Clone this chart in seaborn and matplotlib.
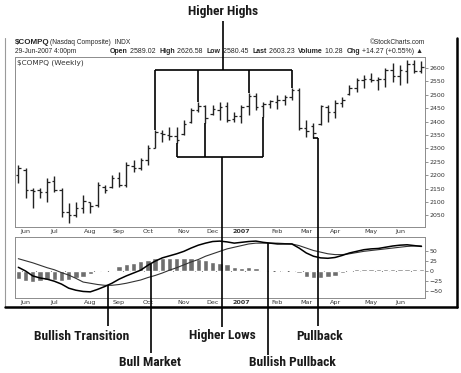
"""
$COMPQ weekly bar chart with MACD panel and trend annotations.
Writes out.png (461x373).
"""

import matplotlib
matplotlib.use("Agg")
import matplotlib.pyplot as plt
import matplotlib.transforms as mtransforms
from matplotlib import font_manager
from matplotlib.lines import Line2D
import numpy as np
import pandas as pd
import seaborn as sns

W, H, DPI = 461, 373, 100

# weekly bars: week of 29-May-2006 .. week of 25-Jun-2007
week_start = pd.date_range("2006-05-29", periods=57, freq="W-MON")

price_open = [2201, 2220, 2146, 2145, 2137, 2179, 2145, 2063, 2052, 2078,
              2100, 2089, 2156, 2156, 2190, 2164, 2234, 2227, 2257, 2302,
              2358, 2350, 2346, 2354, 2399, 2443, 2458, 2429, 2443, 2458,
              2410, 2421, 2458, 2496, 2458, 2466, 2473, 2481, 2492, 2518,
              2376, 2384, 2391, 2455, 2436, 2469, 2503, 2525, 2555, 2559,
              2555, 2559, 2593, 2570, 2590, 2615, 2589.02]
price_high = [2238, 2227, 2152, 2152, 2190, 2197, 2152, 2096, 2100, 2126,
              2100, 2175, 2164, 2201, 2212, 2249, 2257, 2265, 2313, 2369,
              2369, 2380, 2380, 2406, 2451, 2473, 2462, 2462, 2473, 2473,
              2436, 2462, 2507, 2507, 2473, 2481, 2499, 2499, 2525, 2525,
              2406, 2395, 2462, 2462, 2481, 2492, 2537, 2563, 2574, 2581,
              2566, 2600, 2619, 2611, 2630, 2630, 2626.58]
price_low = [2171, 2115, 2078, 2115, 2100, 2137, 2044, 2022, 2044, 2059,
             2059, 2082, 2134, 2152, 2156, 2156, 2212, 2220, 2238, 2302,
             2324, 2331, 2320, 2350, 2395, 2436, 2395, 2425, 2406, 2399,
             2399, 2395, 2425, 2443, 2417, 2451, 2447, 2462, 2481, 2369,
             2343, 2339, 2387, 2399, 2414, 2455, 2499, 2510, 2525, 2548,
             2518, 2529, 2548, 2537, 2544, 2581, 2580.45]
price_close = [2227, 2145, 2142, 2137, 2175, 2145, 2063, 2052, 2078, 2104,
               2085, 2164, 2145, 2190, 2164, 2238, 2227, 2257, 2302, 2361,
               2354, 2346, 2331, 2391, 2443, 2458, 2414, 2447, 2455, 2406,
               2421, 2455, 2496, 2455, 2466, 2477, 2481, 2492, 2518, 2376,
               2365, 2358, 2458, 2436, 2469, 2481, 2525, 2555, 2559, 2555,
               2559, 2593, 2570, 2593, 2615, 2589, 2603.23]

macd_line = [9, 0, -12, -17, -20, -25, -32, -42, -47, -50,
             -51, -45, -38, -30, -20, -12, -5, 2, 14, 24,
             32, 37, 42, 48, 56, 63, 68, 72, 73, 71,
             68, 70, 72, 73, 70, 68, 66, 66, 66, 56,
             44, 36, 32, 31, 33, 38, 44, 48, 52, 54,
             55, 58, 61, 63, 64, 62, 60]
macd_signal = [30, 25, 20, 14, 8, 3, -4, -10, -18, -27,
               -30, -33, -35, -35, -33, -30, -26, -22, -16, -11,
               -5, 2, 8, 15, 22, 28, 36, 42, 48, 54,
               58, 62, 66, 68, 68, 68, 68, 67, 66, 62,
               56, 50, 46, 42, 40, 40, 42, 45, 48, 50,
               52, 54, 56, 58, 60, 61, 61]
macd_hist = [-20, -24, -26, -24, -22, -22, -24, -22, -18, -14,
             -8, -3, -1, 3, 12, 17, 20, 24, 28, 32,
             32, 32, 31, 32, 32, 30, 27, 22, 20, 17,
             10, 8, 10, 8, 3, 1, 0, 0, -1, -5,
             -14, -17, -17, -14, -12, -6, -2, 4, 5, 6,
             5, 5, 6, 5, 5, 5, 4]

price_ticks = list(range(2050, 2601, 50))
macd_ticks = [-50, -25, 0, 25, 50]

header_stats = [("Open", True), (" 2589.02  ", False), ("High", True), (" 2626.58  ", False),
                ("Low", True), (" 2580.45  ", False), ("Last", True), (" 2603.23  ", False),
                ("Volume", True), (" 10.28  ", False), ("Chg", True), (" +14.27 (+0.55%) \u25b2", False)]

INK = "#222222"
ANNOT = "#1a1a1a"
HEAD_FONT = ["Liberation Sans", "DejaVu Sans"]

# narrow bold face for the callouts if one is installed, else Roboto a bit smaller
installed = {f.name for f in font_manager.fontManager.ttflist}
if "Liberation Sans Narrow" in installed:
    LABEL_FONT, LABEL_SIZE = ["Liberation Sans Narrow", "DejaVu Sans"], 9.7
elif "Roboto Condensed" in installed:
    LABEL_FONT, LABEL_SIZE = ["Roboto Condensed", "DejaVu Sans"], 9.7
else:
    LABEL_FONT, LABEL_SIZE = ["Roboto", "DejaVu Sans"], 8.6


def fx(px):
    return px / W


def fy(py):
    return 1 - py / H


def style_axis(ax, ticks, labels_bold):
    for s in ax.spines.values():
        s.set_color("#8c8c8c")
        s.set_linewidth(0.7)
    ax.yaxis.tick_right()
    ax.tick_params(axis="y", which="both", labelsize=4.5, length=2, width=0.5,
                   color="#666", labelcolor="#333", pad=1.5)
    ax.set_yticks(ticks)
    ax.set_xticks(month_pos)
    ax.set_xticklabels(month_txt)
    ax.set_xticks(wk, minor=True)
    ax.tick_params(axis="x", which="major", direction="in", length=2.5, width=0.5,
                   color="#666", labelsize=4.6, labelcolor="#333", pad=1.2)
    ax.tick_params(axis="x", which="minor", direction="in", length=1.2, width=0.5, color="#888")
    for lbl, bold in zip(ax.get_xticklabels(), labels_bold):
        if bold:
            lbl.set_fontweight("bold")
    ax.set_xlabel("")
    ax.set_ylabel("")


wk = np.arange(len(week_start))
new_month = np.r_[False, week_start.month[1:] != week_start.month[:-1]]
month_pos = wk[new_month]
month_txt = [d.strftime("%b") if d.month != 1 else str(d.year) for d in week_start[new_month]]
month_bold = [d.month == 1 for d in week_start[new_month]]

sns.set_style("white")
plt.rcParams["font.family"] = ["DejaVu Sans"]

fig = plt.figure(figsize=(W / DPI, H / DPI), dpi=DPI)
ax_p = fig.add_axes([fx(15), fy(227), 410 / W, 170 / H])
ax_m = fig.add_axes([fx(15), fy(298), 410 / W, 61 / H])

# price bars (OHLC)
ax_p.vlines(wk, price_low, price_high, color=INK, lw=1.0)
ax_p.hlines(price_open, wk - 0.34, wk, color=INK, lw=0.9)
ax_p.hlines(price_close, wk, wk + 0.34, color=INK, lw=0.9)
ax_p.set_xlim(-0.46, 56.49)
ax_p.set_ylim(2007, 2641)
style_axis(ax_p, price_ticks, month_bold)
ax_p.text(0.006, 0.985, "\\$COMPQ (Weekly)", transform=ax_p.transAxes, fontsize=5.3,
          va="top", ha="left", color="#333")

# MACD panel
ax_m.axhline(0, color="#666", lw=0.7, ls=(0, (3, 2)), zorder=1)
ax_m.bar(wk, macd_hist, width=0.74, color="#6e6e6e", zorder=2)
sns.lineplot(x=wk, y=macd_signal, ax=ax_m, color="#333", lw=0.8, zorder=3)
sns.lineplot(x=wk, y=macd_line, ax=ax_m, color="black", lw=1.1, zorder=3)
ax_m.set_xlim(-0.46, 56.49)
ax_m.set_ylim(-66, 83)
style_axis(ax_m, macd_ticks, month_bold)

# outer frame (thin left edge, heavy right/bottom edges)
fig.add_artist(Line2D([fx(5), fx(5)], [fy(38), fy(307)], transform=fig.transFigure,
                      color="#9a9a9a", lw=0.8))
fig.add_artist(Line2D([fx(5), fx(457)], [fy(307), fy(307)], transform=fig.transFigure,
                      color="black", lw=1.8))
fig.add_artist(Line2D([fx(457), fx(457)], [fy(38), fy(307)], transform=fig.transFigure,
                      color="black", lw=1.8))

# header
fig.text(fx(15), fy(43), "\\$COMPQ", fontsize=5.8, fontweight="bold", va="center",
         family=HEAD_FONT)
fig.text(fx(50), fy(43), "(Nasdaq Composite)  INDX", fontsize=4.8, va="center",
         family=HEAD_FONT)
fig.text(fx(15), fy(51.5), "29-Jun-2007 4:00pm", fontsize=4.8, va="center",
         family=HEAD_FONT)
fig.text(fx(425), fy(42), "\u00a9StockCharts.com", fontsize=4.8, va="center", ha="right",
         family=HEAD_FONT)
renderer = fig.canvas.get_renderer()
x_cur = fx(110)
for txt, bold in header_stats:
    t = fig.text(x_cur, fy(51.5), txt, fontsize=5.0, va="center",
                 fontweight="bold" if bold else "normal", family=HEAD_FONT)
    x_cur += t.get_window_extent(renderer).width / W

# annotations
tp = mtransforms.blended_transform_factory(ax_p.transData, fig.transFigure)
tm = mtransforms.blended_transform_factory(ax_m.transData, fig.transFigure)


def price_fy(v):
    return fig.transFigure.inverted().transform(ax_p.transData.transform((0, v)))[1]


def macd_fy(v):
    return fig.transFigure.inverted().transform(ax_m.transData.transform((0, v)))[1]


def seg(trans, xs, ys):
    fig.add_artist(Line2D(xs, ys, transform=trans, color="black", lw=1.2,
                          solid_capstyle="butt"))


def label(px, py, txt):
    fig.text(fx(px), fy(py), txt, fontsize=LABEL_SIZE, fontweight="bold", ha="center",
             va="center", color=ANNOT, family=LABEL_FONT)


# Higher Highs
hh = [19, 25, 32, 38]
seg(tp, [hh[0], hh[-1]], [fy(70), fy(70)])
for i in hh:
    seg(tp, [i, i], [fy(70), price_fy(price_high[i])])
seg(tp, [28.4, 28.4], [fy(21), fy(70)])
label(223, 12, "Higher Highs")

# Higher Lows
hl = [22, 26, 34]
seg(tp, [hl[0], hl[-1]], [fy(157), fy(157)])
for i in hl:
    seg(tp, [i, i], [fy(157), price_fy(price_low[i])])
seg(tp, [28.25, 28.25], [fy(157), fy(327)])
label(222, 336, "Higher Lows")

# Pullback
seg(tp, [41, 41.6], [price_fy(price_low[41])] * 2)
seg(tp, [41.6, 41.6], [price_fy(price_low[41]), fy(326)])
label(320, 336, "Pullback")

# MACD based notes
for xi, py_end in [(12.45, 326), (18.4, 353), (34.7, 355)]:
    seg(tm, [xi, xi], [macd_fy(np.interp(xi, wk, macd_line)), fy(py_end)])
label(82, 336, "Bullish Transition")
label(150, 362, "Bull Market")
label(292, 362, "Bullish Pullback")

fig.savefig("out.png", dpi=DPI)
